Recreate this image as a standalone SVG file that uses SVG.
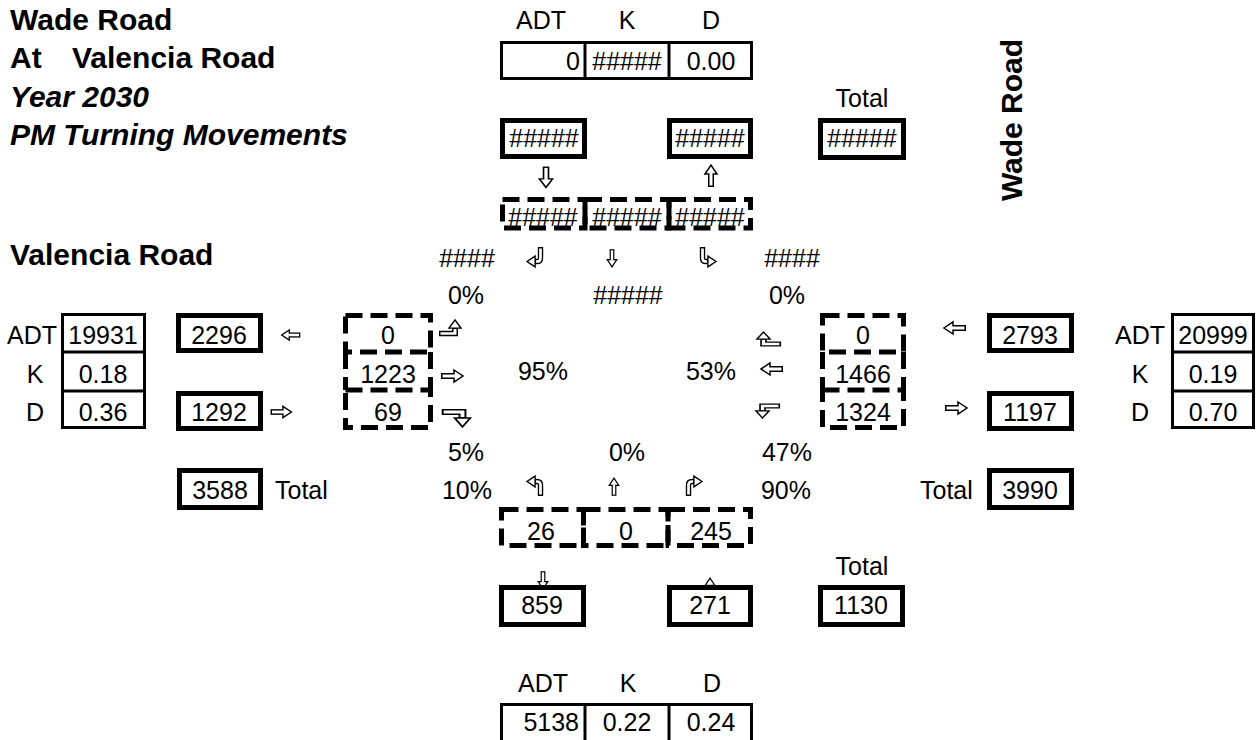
<svg xmlns="http://www.w3.org/2000/svg" xmlns:xlink="http://www.w3.org/1999/xlink" width="1258" height="740" viewBox="0 0 1258 740">
<style>
text{font-family:"Liberation Sans",Arial,sans-serif;font-size:25px;fill:#000}
.m{text-anchor:middle}.e{text-anchor:end}
.ti{font-weight:bold;font-size:30px;white-space:pre}
.it{font-style:italic}
.thick{fill:#fff;stroke:#000;stroke-width:5}
.tbl{fill:none;stroke:#000;stroke-width:3}
.dash{fill:none;stroke:#000;stroke-width:5;stroke-dasharray:17 8}
.sb{fill:none;stroke:#000;stroke-width:6;stroke-linejoin:miter}
.sw{fill:none;stroke:#fff;stroke-width:3;stroke-linejoin:miter}
.hd{fill:#fff;stroke:#000;stroke-width:1.5;stroke-linejoin:miter}
</style>
<defs>
<g id="arR">
<path class="sb" d="M-11,0H2"/>
<path class="hd" d="M2,-6L11,0L2,6Z"/>
<path class="sw" d="M-9.5,0H3"/>
</g>
<g id="tRU">
<path class="sb" d="M-11,5H5V-1"/>
<path class="hd" d="M-1,-1L5,-10L11,-1Z"/>
<path class="sw" d="M-9.5,5H5V0"/>
</g>
<g id="tRUc">
<path class="sb" d="M-11,5H1Q5,5 5,1V-1"/>
<path class="hd" d="M-1,-1L5,-10L11,-1Z"/>
<path class="sw" d="M-9.5,5H1Q5,5 5,1V0"/>
</g>
</defs>

<g id="titles">
<text class="ti" x="10" y="30">Wade Road</text>
<text class="ti" x="10" y="68">At<tspan x="72">Valencia Road</tspan></text>
<text class="ti it" x="10" y="107">Year 2030</text>
<text class="ti it" x="10" y="145">PM Turning Movements</text>
<text class="ti" x="10" y="265">Valencia Road</text>
<text class="ti m" transform="translate(1022,120) rotate(-90)">Wade Road</text>
</g>

<g id="north-adt">
<text class="m" x="541" y="29">ADT</text>
<text class="m" x="627" y="29">K</text>
<text class="m" x="711" y="29">D</text>
<rect class="tbl" x="501.5" y="42.5" width="250" height="36"/>
<line class="tbl" x1="585" y1="42" x2="585" y2="79"/>
<line class="tbl" x1="669" y1="42" x2="669" y2="79"/>
<text class="e" x="580" y="70">0</text>
<text class="m" x="627" y="70">#####</text>
<text class="m" x="711" y="70">0.00</text>
</g>

<g id="north-out"><rect class="thick" x="502.5" y="120.5" width="82" height="36"/><text class="m" x="544" y="147">#####</text></g>
<g id="north-in"><rect class="thick" x="669.5" y="120.5" width="81" height="36"/><text class="m" x="710" y="147">#####</text></g>
<g id="north-total"><text class="m" x="862" y="107">Total</text><rect class="thick" x="820.5" y="120.5" width="83" height="37"/><text class="m" x="862" y="147">#####</text></g>

<g id="sb-lanes">
<rect class="dash" x="502.5" y="199.5" width="82.5" height="28.5"/>
<rect class="dash" x="585" y="199.5" width="84" height="28.5"/>
<rect class="dash" x="669" y="199.5" width="81.5" height="28.5"/>
<text class="m" x="543" y="226">#####</text>
<text class="m" x="627" y="226">#####</text>
<text class="m" x="710" y="226">#####</text>
</g>

<g id="labels-north">
<text class="m" x="467" y="267">####</text>
<text class="m" x="792" y="267">####</text>
<text class="m" x="466" y="304">0%</text>
<text class="m" x="628" y="304">#####</text>
<text class="m" x="787" y="304">0%</text>
<text class="m" x="543" y="380">95%</text>
<text class="m" x="711" y="380">53%</text>
<text class="m" x="466" y="461">5%</text>
<text class="m" x="627" y="461">0%</text>
<text class="m" x="787" y="461">47%</text>
<text class="m" x="467" y="499">10%</text>
<text class="m" x="786" y="499">90%</text>
</g>

<g id="west-adt">
<text class="e" x="57" y="344">ADT</text>
<text class="m" x="35" y="383">K</text>
<text class="m" x="35" y="421">D</text>
<rect class="tbl" x="62.5" y="314.5" width="82" height="113"/>
<line class="tbl" x1="62" y1="352" x2="145" y2="352"/>
<line class="tbl" x1="62" y1="391" x2="145" y2="391"/>
<text class="m" x="103" y="344">19931</text>
<text class="m" x="103" y="383">0.18</text>
<text class="m" x="103" y="421">0.36</text>
</g>
<g id="west-out"><rect class="thick" x="178.5" y="315.5" width="82" height="35"/><text class="m" x="219" y="344">2296</text></g>
<g id="west-in"><rect class="thick" x="178.5" y="393.5" width="82" height="35"/><text class="m" x="219" y="421">1292</text></g>
<g id="west-total"><rect class="thick" x="179.5" y="470.5" width="81" height="37"/><text class="m" x="220" y="499">3588</text><text x="275" y="499">Total</text></g>

<g id="eb-lanes">
<rect class="dash" x="345.5" y="315.5" width="85" height="36.5"/>
<line class="dash" x1="345.5" y1="352" x2="345.5" y2="390"/>
<line class="dash" x1="430.5" y1="352" x2="430.5" y2="390"/>
<rect class="dash" x="345.5" y="390" width="85" height="37.5"/>
<text class="m" x="388" y="344">0</text>
<text class="m" x="388" y="383">1223</text>
<text class="m" x="388" y="421">69</text>
</g>

<g id="wb-lanes">
<rect class="dash" x="822.5" y="315.5" width="81" height="36.5"/>
<line class="dash" x1="822.5" y1="352" x2="822.5" y2="390"/>
<line class="dash" x1="903.5" y1="352" x2="903.5" y2="390"/>
<rect class="dash" x="822.5" y="390" width="81" height="37.5"/>
<text class="m" x="863" y="344">0</text>
<text class="m" x="863" y="383">1466</text>
<text class="m" x="863" y="421">1324</text>
</g>

<g id="east-in"><rect class="thick" x="989.5" y="315.5" width="82" height="35"/><text class="m" x="1030" y="344">2793</text></g>
<g id="east-out"><rect class="thick" x="989.5" y="393.5" width="82" height="35"/><text class="m" x="1030" y="421">1197</text></g>
<g id="east-total"><text x="920" y="499">Total</text><rect class="thick" x="989.5" y="470.5" width="82" height="37"/><text class="m" x="1030" y="499">3990</text></g>
<g id="east-adt">
<text class="e" x="1165" y="344">ADT</text>
<text class="m" x="1140" y="383">K</text>
<text class="m" x="1140" y="421">D</text>
<rect class="tbl" x="1172.5" y="314.5" width="81" height="113"/>
<line class="tbl" x1="1172" y1="352" x2="1254" y2="352"/>
<line class="tbl" x1="1172" y1="391" x2="1254" y2="391"/>
<text class="m" x="1213" y="344">20999</text>
<text class="m" x="1213" y="383">0.19</text>
<text class="m" x="1213" y="421">0.70</text>
</g>

<g id="nb-lanes">
<rect class="dash" x="501.5" y="509.5" width="82" height="36"/>
<rect class="dash" x="583.5" y="509.5" width="84.5" height="36"/>
<rect class="dash" x="668" y="509.5" width="82.5" height="36"/>
<text class="m" x="541" y="540">26</text>
<text class="m" x="626" y="540">0</text>
<text class="m" x="711" y="540">245</text>
</g>

<g id="connectors">
<use xlink:href="#arR" transform="translate(546,177) rotate(90) scale(0.95,1.1)"/>
<use xlink:href="#arR" transform="translate(711,176) rotate(-90)"/>
<use xlink:href="#tRUc" transform="translate(536,257) scale(-1,1) rotate(90) scale(0.9)"/>
<use xlink:href="#arR" transform="translate(612,258) rotate(90) scale(0.8)"/>
<use xlink:href="#tRUc" transform="translate(707,257) rotate(90) scale(0.9)"/>
<use xlink:href="#arR" transform="translate(291,335) rotate(180) scale(0.85)"/>
<use xlink:href="#arR" transform="translate(281,412) scale(0.95)"/>
<use xlink:href="#tRU" transform="translate(450,329) scale(1,0.9)"/>
<use xlink:href="#arR" transform="translate(452,376)"/>
<use xlink:href="#tRU" transform="translate(456,417) scale(1.3,-1)"/>
<use xlink:href="#tRU" transform="translate(769,340) scale(-1.1,0.8)"/>
<use xlink:href="#arR" transform="translate(772,369) rotate(180)"/>
<use xlink:href="#tRU" transform="translate(768,410) scale(-1.1,-0.8)"/>
<use xlink:href="#arR" transform="translate(955,328) rotate(180)"/>
<use xlink:href="#arR" transform="translate(956,408)"/>
<use xlink:href="#tRUc" transform="translate(536,486) rotate(-90) scale(0.9)"/>
<use xlink:href="#arR" transform="translate(614,487) rotate(-90) scale(0.8)"/>
<use xlink:href="#tRUc" transform="translate(693,486) scale(-1,1) rotate(-90) scale(0.9)"/>
<use xlink:href="#arR" transform="translate(543,580) rotate(90) scale(0.8)"/>
<use xlink:href="#arR" transform="translate(710,587) rotate(-90) scale(0.8)"/>
</g>

<g id="south-out"><rect class="thick" x="501.5" y="587.5" width="82" height="37"/><text class="m" x="542" y="614">859</text></g>
<g id="south-in"><rect class="thick" x="669.5" y="587.5" width="81" height="37"/><text class="m" x="710" y="614">271</text></g>
<g id="south-total"><text class="m" x="862" y="575">Total</text><rect class="thick" x="820.5" y="587.5" width="82" height="37"/><text class="m" x="861" y="614">1130</text></g>

<g id="south-adt">
<text class="m" x="543" y="692">ADT</text>
<text class="m" x="628" y="692">K</text>
<text class="m" x="712" y="692">D</text>
<rect class="tbl" x="501.5" y="704.5" width="250" height="45"/>
<line class="tbl" x1="585" y1="704" x2="585" y2="740"/>
<line class="tbl" x1="669" y1="704" x2="669" y2="740"/>
<text class="e" x="579" y="731">5138</text>
<text class="m" x="627" y="731">0.22</text>
<text class="m" x="711" y="731">0.24</text>
</g>
</svg>
